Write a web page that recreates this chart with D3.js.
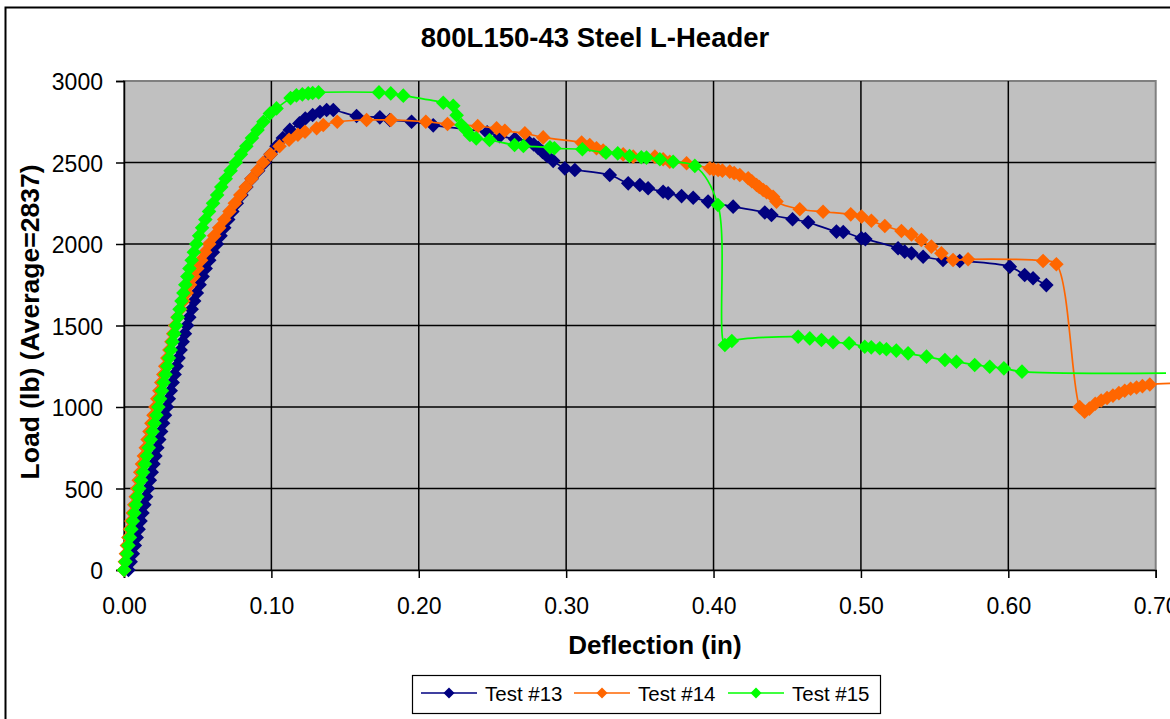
<!DOCTYPE html>
<html><head><meta charset="utf-8">
<script src="https://cdn.jsdelivr.net/npm/d3@7"></script>
<style>
html,body{margin:0;padding:0;background:#fff;}
svg{display:block;}
text{font-family:"Liberation Sans",Arial,sans-serif;}
</style></head>
<body>
<svg id="chart" width="1170" height="719"></svg>
<script>
// ---- data: [deflection (in), load (lb)] ----
const seriesNames = ["Test #13", "Test #14", "Test #15"];
const seriesColors = ["#000080", "#FF6600", "#00FF00"];
const xTickValues = [0, 0.1, 0.2, 0.3, 0.4, 0.5, 0.6, 0.7];
const yTickValues = [0, 500, 1000, 1500, 2000, 2500, 3000];

const test13 = [
[0.003,0],[0.0045,50],[0.006,100],[0.0073,150],[0.0086,200],[0.0099,250],[0.0112,300],[0.0125,350],[0.0138,400],[0.015,450],
[0.0162,500],[0.0175,550],[0.0188,600],[0.020,650],[0.0213,700],[0.0226,750],[0.0239,800],[0.0252,850],[0.0265,900],[0.0278,950],
[0.0291,1000],[0.0304,1050],[0.0317,1100],[0.033,1150],[0.0343,1200],[0.0357,1250],[0.037,1300],[0.0384,1350],[0.0398,1400],[0.0413,1450],
[0.0428,1500],[0.0443,1550],[0.0459,1600],[0.0476,1650],[0.0494,1700],[0.0513,1750],[0.0533,1800],[0.0554,1850],[0.0578,1900],[0.0603,1950],
[0.063,2000],[0.0655,2050],[0.068,2100],[0.0707,2150],[0.0735,2200],[0.0765,2250],[0.0797,2300],[0.083,2350],[0.0866,2400],[0.091,2450],
[0.0955,2500],[0.0995,2550],[0.1035,2600],[0.1078,2650],[0.1125,2700],[0.119,2740],[0.123,2770],[0.128,2791],[0.133,2810],[0.1375,2822],
[0.142,2822],[0.1578,2785],[0.1736,2777],[0.1804,2761],[0.1951,2750],[0.2098,2728],[0.2464,2685],[0.255,2662],[0.2652,2645],[0.274,2630],
[0.278,2610],[0.281,2590],[0.284,2565],[0.287,2540],[0.2912,2510],[0.2991,2464],[0.3059,2454],[0.3296,2423],[0.3421,2372],[0.35,2362],
[0.3556,2342],[0.3658,2321],[0.3692,2311],[0.3783,2294],[0.3862,2284],[0.3963,2260],[0.4133,2229],[0.4348,2193],[0.4393,2178],[0.4536,2152],
[0.4642,2133],[0.4834,2076],[0.4880,2074],[0.5004,2035],[0.5030,2030],[0.5252,1974],[0.5297,1953],[0.5343,1943],[0.5422,1922],[0.5557,1902],
[0.567,1896],[0.601,1861],[0.6111,1810],[0.6168,1790],[0.6258,1748]
];

const test14 = [
[0.000,0],[0.0006,50],[0.0013,100],[0.002,150],[0.003,200],[0.004,250],[0.005,300],[0.006,350],[0.007,400],[0.008,450],
[0.009,500],[0.010,550],[0.011,600],[0.0122,650],[0.0135,700],[0.0148,750],[0.016,800],[0.0173,850],[0.0186,900],[0.020,950],
[0.0213,1000],[0.0226,1050],[0.024,1100],[0.0253,1150],[0.0267,1200],[0.028,1250],[0.0294,1300],[0.0308,1350],[0.0322,1400],[0.0334,1450],
[0.0347,1500],[0.0363,1550],[0.0382,1600],[0.0403,1650],[0.0425,1700],[0.0448,1750],[0.0472,1800],[0.0497,1850],[0.0523,1900],[0.055,1950],
[0.0578,2000],[0.0612,2050],[0.0646,2100],[0.068,2150],[0.0716,2200],[0.0752,2250],[0.0789,2300],[0.0826,2350],[0.0865,2400],[0.0905,2450],
[0.0945,2500],[0.0995,2550],[0.1055,2600],[0.112,2640],[0.118,2670],[0.1228,2689],[0.1307,2710],[0.1352,2730],[0.1447,2750],[0.1646,2761],
[0.1811,2761],[0.2048,2750],[0.2195,2736],[0.24,2723],[0.2528,2710],[0.2584,2695],[0.272,2679],[0.2844,2654],[0.3105,2622],[0.316,2607],
[0.3206,2587],[0.3251,2573],[0.3387,2550],[0.3455,2536],[0.3602,2536],[0.3658,2520],[0.3703,2505],[0.3817,2495],[0.3975,2464],[0.400,2459],
[0.4031,2454],[0.406,2450],[0.411,2444],[0.414,2435],[0.4178,2423],[0.4235,2403],[0.426,2385],[0.4292,2362],[0.431,2350],[0.4337,2331],
[0.436,2318],[0.4404,2290],[0.4427,2260],[0.4585,2213],[0.4743,2198],[0.4931,2182],[0.5004,2168],[0.5071,2143],[0.5162,2110],[0.5275,2080],
[0.5343,2059],[0.541,2025],[0.5478,1984],[0.5546,1943],[0.5625,1902],[0.5727,1906],[0.6236,1896],[0.6326,1876],[0.6484,1000],[0.6518,971],
[0.655,990],[0.659,1020],[0.663,1040],[0.667,1055],[0.671,1070],[0.675,1085],[0.679,1100],[0.683,1112],[0.687,1120],[0.691,1128],
[0.696,1138],[0.712,1145]
];

const test15 = [
[0.000,0],[0.001,50],[0.002,100],[0.003,150],[0.004,200],[0.005,250],[0.006,300],[0.007,350],[0.008,400],[0.009,450],
[0.0103,500],[0.0116,550],[0.0129,600],[0.0142,650],[0.0155,700],[0.0168,750],[0.0181,800],[0.0194,850],[0.0207,900],[0.022,950],
[0.0233,1000],[0.0245,1050],[0.0257,1100],[0.0269,1150],[0.0281,1200],[0.0293,1250],[0.0305,1300],[0.0317,1350],[0.0329,1400],[0.0341,1450],
[0.0353,1500],[0.0365,1550],[0.0377,1600],[0.039,1650],[0.0403,1700],[0.0416,1750],[0.043,1800],[0.0444,1850],[0.0459,1900],[0.0474,1950],
[0.049,2000],[0.051,2050],[0.053,2100],[0.0552,2150],[0.0577,2200],[0.0604,2250],[0.0632,2300],[0.066,2350],[0.069,2400],[0.0723,2450],
[0.0758,2500],[0.0793,2550],[0.083,2600],[0.0868,2650],[0.0906,2700],[0.0946,2750],[0.099,2800],[0.1035,2832],[0.113,2895],[0.117,2912],
[0.121,2918],[0.125,2924],[0.128,2926],[0.132,2930],[0.173,2930],[0.181,2924],[0.1895,2910],[0.2166,2867],[0.2234,2848],[0.2257,2790],
[0.229,2730],[0.232,2700],[0.2347,2669],[0.239,2648],[0.248,2638],[0.265,2607],[0.271,2601],[0.289,2593],[0.292,2587],[0.311,2581],
[0.327,2560],[0.335,2556],[0.343,2540],[0.351,2532],[0.3545,2530],[0.3636,2520],[0.3726,2505],[0.3873,2479],[0.403,2239],[0.4077,1380],
[0.4124,1405],[0.4574,1431],[0.4653,1421],[0.4732,1411],[0.4811,1397],[0.492,1391],[0.5026,1370],[0.507,1366],[0.5128,1360],[0.5173,1354],
[0.524,1346],[0.532,1329],[0.5445,1309],[0.557,1288],[0.5648,1278],[0.5772,1258],[0.5874,1247],[0.597,1237],[0.6093,1217],[0.707,1208]
];

const allSeries = [test13, test14, test15];

// ---- layout ----
const svg = d3.select("#chart");
const plot = {left: 124, right: 1155.7, top: 81, bottom: 570};
const x = d3.scaleLinear().domain([0, 0.7]).range([plot.left, plot.right]);
const y = d3.scaleLinear().domain([0, 3000]).range([plot.bottom, plot.top]);

// outer chart border
svg.append("rect").attr("x", 5.5).attr("y", 7.5).attr("width", 1300).attr("height", 900)
  .attr("fill", "#fff").attr("stroke", "#000").attr("stroke-width", 2);

// plot background
svg.append("rect").attr("x", plot.left).attr("y", plot.top)
  .attr("width", plot.right - plot.left).attr("height", plot.bottom - plot.top)
  .attr("fill", "#C0C0C0").attr("stroke", "#808080").attr("stroke-width", 2);

// gridlines
const grid = svg.append("g");
grid.selectAll(".gx").data(xTickValues.slice(1, -1)).join("line")
  .attr("x1", d => x(d)).attr("x2", d => x(d)).attr("y1", plot.top).attr("y2", plot.bottom)
  .attr("stroke", "#000").attr("stroke-width", 1.5);
grid.selectAll(".gy").data(yTickValues.slice(1, -1)).join("line")
  .attr("y1", d => y(d)).attr("y2", d => y(d)).attr("x1", plot.left).attr("x2", plot.right)
  .attr("stroke", "#000").attr("stroke-width", 1.5);

// axes
const xAxis = d3.axisBottom(x).tickValues(xTickValues).tickFormat(d3.format(".2f")).tickSize(8).tickPadding(9);
const yAxis = d3.axisLeft(y).tickValues(yTickValues).tickFormat(d3.format("d")).tickSize(8).tickPadding(13);
const gx = svg.append("g").attr("transform", `translate(0,${plot.bottom})`).call(xAxis);
const gy = svg.append("g").attr("transform", `translate(${plot.left},0)`).call(yAxis);
[gx, gy].forEach(g => {
  g.attr("font-size", null).attr("font-family", null);
  g.select(".domain").attr("stroke", "#000").attr("stroke-width", 1.5);
  g.selectAll(".tick line").attr("stroke", "#000").attr("stroke-width", 1.5);
  g.selectAll(".tick text").style("font-size", "23px").attr("fill", "#000")
    .style("font-family", '"Liberation Sans", Arial, sans-serif');
});
gx.selectAll(".tick text").attr("y", 44).attr("dy", 0);
gy.selectAll(".tick text").attr("dy", "0.38em");

// series
const line = d3.line().x(d => x(d[0])).y(d => y(d[1])).curve(d3.curveCatmullRom.alpha(0.5));
const diamond = r => `M0,${-r}L${r},0L0,${r}L${-r},0Z`;
allSeries.forEach((data, i) => {
  const g = svg.append("g");
  g.append("path").datum(data).attr("d", line).attr("fill", "none")
    .attr("stroke", seriesColors[i]).attr("stroke-width", 1.7);
  g.selectAll("path.m").data(data.filter(d => d[0] <= 0.7)).join("path").attr("class", "m")
    .attr("transform", d => `translate(${x(d[0])},${y(d[1])})`)
    .attr("d", diamond(7.3)).attr("fill", seriesColors[i]);
});

// title & axis titles
svg.append("text").attr("x", 595).attr("y", 47).attr("text-anchor", "middle")
  .style("font-size", "27.5px").attr("font-weight", "bold").text("800L150-43 Steel L-Header");
svg.append("text").attr("x", 655).attr("y", 654).attr("text-anchor", "middle")
  .style("font-size", "26px").attr("font-weight", "bold").text("Deflection (in)");
svg.append("text").attr("transform", "translate(39,322) rotate(-90)").attr("text-anchor", "middle")
  .style("font-size", "26.5px").attr("font-weight", "bold").text("Load (lb) (Average=2837)");

// legend
const lg = svg.append("g");
lg.append("rect").attr("x", 412.5).attr("y", 675.5).attr("width", 468).attr("height", 38)
  .attr("fill", "#fff").attr("stroke", "#000").attr("stroke-width", 1.2);
const legX = [421, 574, 728];
seriesNames.forEach((name, i) => {
  const gi = lg.append("g").attr("transform", `translate(${legX[i]},693)`);
  gi.append("line").attr("x1", 0).attr("x2", 56).attr("stroke", seriesColors[i]).attr("stroke-width", 1.6);
  gi.append("path").attr("transform", "translate(28,0)").attr("d", diamond(5.5)).attr("fill", seriesColors[i]);
  gi.append("text").attr("x", 64).attr("y", 7.5).style("font-size", "20.5px").text(name);
});
</script>
</body></html>
